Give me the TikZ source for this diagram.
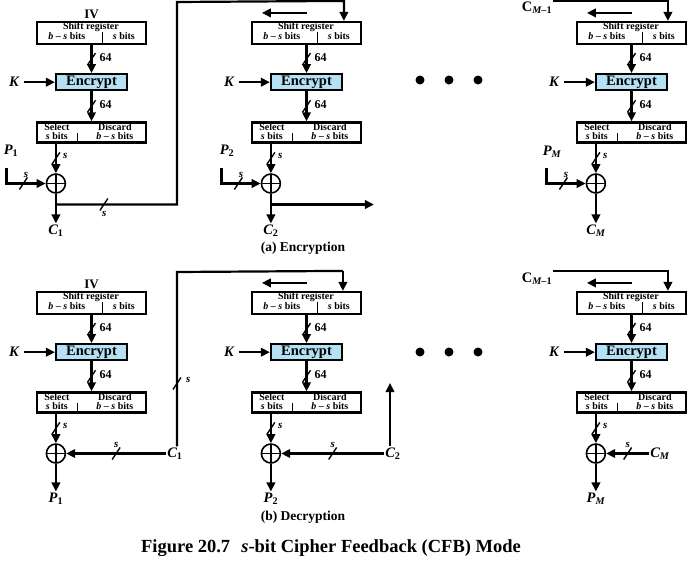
\documentclass[tikz,border=0pt]{standalone}
\usepackage{fontspec}
\setmainfont{Liberation Serif}
\usetikzlibrary{positioning,calc,arrows.meta,decorations.markings}
\definecolor{encblue}{RGB}{182,225,245}

\tikzset{
  wire/.style={line width=2.2pt},
  arrow/.style={wire, -{Triangle[length=9pt,width=8.5pt]}},
  reg/.style={draw, line width=2.2pt, minimum width=109pt, minimum height=22pt, inner sep=0pt},
  sel/.style={reg, minimum height=20pt},
  cipher/.style={draw, line width=2.2pt, fill=encblue, minimum width=71pt, minimum height=16pt,
    inner sep=0pt, font=\fontsize{14.5}{14.5}\selectfont\bfseries},
  boxtext/.style={inner sep=0pt, font=\fontsize{10}{10}\selectfont\bfseries},
  xor/.style={circle, draw, line width=1.6pt, minimum size=19pt, inner sep=0pt,
    path picture={\draw[line width=1.6pt] (path picture bounding box.north) -- (path picture bounding box.south)
      (path picture bounding box.west) -- (path picture bounding box.east);}},
  lbl/.style={inner sep=1pt, font=\fontsize{14.5}{14.5}\selectfont\bfseries\itshape},
  buslbl/.style={inner sep=1pt, font=\fontsize{12}{12}\selectfont\bfseries},
  slbl/.style={inner sep=1pt, font=\fontsize{11}{11}\selectfont\bfseries\itshape},
  ivtext/.style={inner sep=1pt, font=\fontsize{13}{13}\selectfont\bfseries},
  captext/.style={inner sep=0pt, font=\fontsize{13.5}{13.5}\selectfont\bfseries},
  figtext/.style={inner sep=0pt, font=\fontsize{18.5}{18.5}\selectfont\bfseries},
  slashed/.style={postaction={decorate, decoration={markings, mark=at position #1 with
    {\pgftransformresetnontranslations \draw[-, line width=1.4pt] (-4pt,-6pt) -- (4pt,6pt);}}}},
  slashed/.default=0.5,
}

\begin{document}
\begin{tikzpicture}[x=1pt,y=-1pt]
  \useasboundingbox (0,0) rectangle (687,560);

  % the six stages
  \foreach \n/\bx/\by in {1/37/22,2/252/22,3/577/22,4/37/292,5/252/292,6/577/292} {
    \node[reg] (reg\n) at (\bx+54.5,\by+11) {};
    \node[boxtext] at ($(reg\n.north west)+(55,6.5)$) {Shift register};
    \node[boxtext] at ($(reg\n.north west)+(31,15.5)$) {\textit{b} – \textit{s} bits};
    \node[boxtext] at ($(reg\n.north west)+(88,15.5)$) {\textit{s} bits};
    \draw[line width=1pt] ($(reg\n.north west)+(67,11)$) -- ($(reg\n.south west)+(67,0)$);
    \node[cipher, below=28pt of reg\n] (enc\n) {Encrypt};
    \node[sel, below=30pt of enc\n] (sel\n) {};
    \node[boxtext] at ($(sel\n.north west)+(21,5.5)$) {Select};
    \node[boxtext] at ($(sel\n.north west)+(21,14.5)$) {\textit{s} bits};
    \node[boxtext] at ($(sel\n.north west)+(79,5.5)$) {Discard};
    \node[boxtext] at ($(sel\n.north west)+(79,14.5)$) {\textit{b} – \textit{s} bits};
    \draw[line width=1pt] ($(sel\n.north west)+(42,12)$) -- ($(sel\n.south west)+(42,0)$);
    \node[xor] (xor\n) at ($(sel\n.south west)+(20,40)$) {};
    \node[lbl] (k\n) at ($(enc\n.west)+(-41,0)$) {K};
    \draw[arrow, shorten <=4pt] (k\n) -- (enc\n);
    \draw[arrow, slashed] (reg\n) -- node[buslbl, right=6pt, yshift=2pt] {64} (enc\n);
    \draw[arrow, slashed] (enc\n) -- node[buslbl, right=6pt, yshift=2pt] {64} (sel\n);
    \draw[arrow, slashed] (sel\n.south -| xor\n) -- node[slbl, right=5pt, yshift=2pt] {s} (xor\n);
  }
  \foreach \n in {2,3,5,6}
    \draw[arrow] ($(reg\n.north west)+(56,-8)$) -- ($(reg\n.north west)+(11,-8)$);
  \foreach \y in {80,352}
    \foreach \x in {420,449,478}
      \fill (\x,\y) circle (4.5pt);

  % (a) encryption
  \node[ivtext, above=1pt of reg1] (iv1) {IV};
  \node[lbl] (p1) at (11,151) {P\textsubscript{\upshape 1}};
  \coordinate (p1in) at ($(xor1)+(-49.5,-16)$);
  \draw[arrow, slashed=33pt] (p1in) |- node[pos=0.75, slbl, above=4pt] {s} (xor1);
  \node[lbl] (c1) at ($(xor1)+(0,47)$) {C\textsubscript{\upshape 1}};
  \draw[arrow] (xor1) -- (c1);
  \coordinate (fb1) at ($(xor1)+(0,21)$);
  \coordinate (up1) at (177,2);
  \coordinate (in2) at ($(reg2.north west)+(93,-20)$);
  \draw[arrow, slashed=48pt] (fb1) -| node[pos=0.2, slbl, below=5pt] {s} (up1) -- (in2) -- (reg2.north -| in2);

  \node[lbl] (p2) at (227,151) {P\textsubscript{\upshape 2}};
  \coordinate (p2in) at ($(xor2)+(-49.5,-16)$);
  \draw[arrow, slashed=33pt] (p2in) |- node[pos=0.75, slbl, above=4pt] {s} (xor2);
  \node[lbl] (c2) at ($(xor2)+(0,47)$) {C\textsubscript{\upshape 2}};
  \draw[arrow] (xor2) -- (c2);
  \coordinate (fb2) at ($(xor2)+(0,21)$);
  \coordinate (out2) at ($(fb2)+(103,0)$);
  \draw[arrow] (fb2) -- (out2);

  \node[lbl] (cm3) at (537,8) {\upshape C\textsubscript{\itshape M\upshape –1}};
  \coordinate (in3) at ($(reg3.north west)+(92,-20)$);
  \draw[arrow] (cm3.east |- in3) -- (in3) -- (reg3.north -| in3);
  \node[lbl] (p3) at (552,152) {P\textsubscript{M}};
  \coordinate (p3in) at ($(xor3)+(-49.5,-16)$);
  \draw[arrow, slashed=33pt] (p3in) |- node[pos=0.75, slbl, above=4pt] {s} (xor3);
  \node[lbl] (c3) at ($(xor3)+(0,47)$) {C\textsubscript{M}};
  \draw[arrow] (xor3) -- (c3);
  \node[captext] (capa) at (303,248) {(a) Encryption};

  % (b) decryption
  \node[ivtext, above=1pt of reg4] (iv4) {IV};
  \node[lbl] (p4) at ($(xor4)+(0,45)$) {P\textsubscript{\upshape 1}};
  \draw[arrow] (xor4) -- (p4);
  \node[lbl] (c4) at ($(xor4)+(119,0)$) {C\textsubscript{\upshape 1}};
  \draw[arrow, slashed] (c4) -- node[slbl, above=4pt] {s} (xor4);
  \coordinate (up4) at (177,272);
  \coordinate (in5) at ($(reg5.north west)+(92,-20)$);
  \draw[wire, slashed=63pt] (c4.north -| up4) -- node[pos=0.38, slbl, right=7pt] {s} (up4) -- (in5);
  \draw[arrow] (in5) -- (reg5.north -| in5);

  \node[lbl] (p5) at ($(xor5)+(0,45)$) {P\textsubscript{\upshape 2}};
  \draw[arrow] (xor5) -- (p5);
  \node[lbl] (c5) at ($(xor5)+(122,0)$) {C\textsubscript{\upshape 2}};
  \draw[arrow, slashed] (c5) -- node[slbl, above=4pt] {s} (xor5);
  \coordinate (out5) at (390,383);
  \draw[arrow] (c5.north -| out5) -- (out5);

  \node[lbl] (cm6) at (537,279) {\upshape C\textsubscript{\itshape M\upshape –1}};
  \coordinate (in6) at ($(reg6.north west)+(92,-20)$);
  \draw[arrow] (cm6.east |- in6) -- (in6) -- (reg6.north -| in6);
  \node[lbl] (p6) at ($(xor6)+(0,45)$) {P\textsubscript{M}};
  \draw[arrow] (xor6) -- (p6);
  \node[lbl] (c6) at ($(xor6)+(64,0)$) {C\textsubscript{M}};
  \draw[arrow, slashed] (c6) -- node[slbl, above=4pt] {s} (xor6);
  \node[captext] (capb) at (303,517) {(b) Decryption};

  \node[figtext] (fig) at (331,548) {Figure 20.7\hspace{0.6em}\textit{s}-bit Cipher Feedback (CFB) Mode};
\end{tikzpicture}
\end{document}
